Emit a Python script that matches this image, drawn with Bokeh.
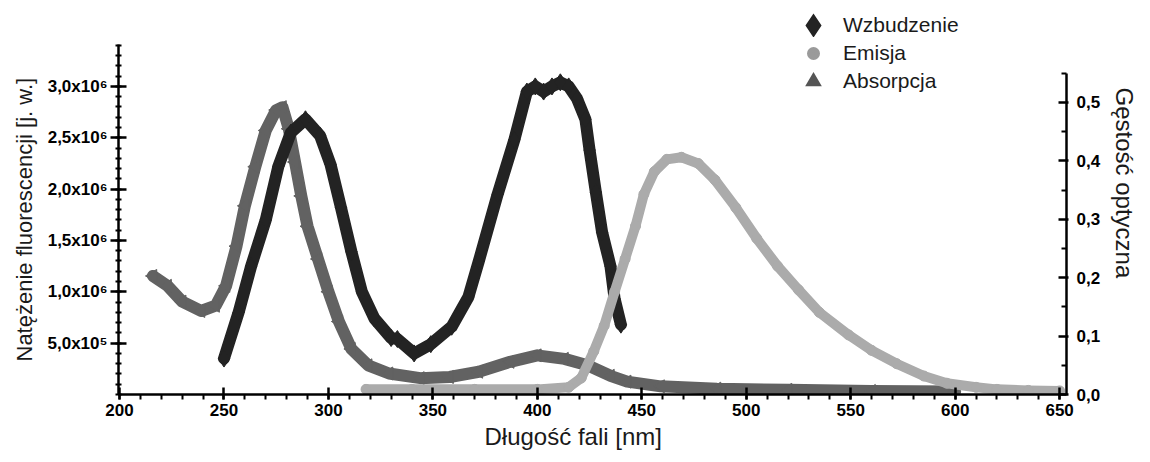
import math
from bokeh.plotting import figure
from bokeh.models import (Range1d, LinearAxis, FixedTicker, Legend, LegendItem, Title)
from bokeh.embed import file_html
from bokeh.resources import INLINE

# ---- data ----
exc_nm = [250, 257, 263, 270, 276, 282, 289, 296, 301, 306, 311, 316, 322, 330, 333,
          341, 349, 359, 367, 372, 381, 389, 395, 399, 403, 407, 411, 415, 419, 423,
          425, 428, 431, 435, 437, 440]
exc_val = [0.35e6, 0.80e6, 1.25e6, 1.70e6, 2.22e6, 2.55e6, 2.68e6, 2.52e6, 2.24e6, 1.82e6,
           1.39e6, 1.00e6, 0.74e6, 0.55e6, 0.54e6, 0.40e6, 0.49e6, 0.66e6, 0.95e6, 1.30e6,
           1.95e6, 2.48e6, 2.95e6, 3.00e6, 2.95e6, 3.00e6, 3.04e6, 3.00e6, 2.88e6, 2.68e6,
           2.38e6, 1.97e6, 1.58e6, 1.25e6, 0.93e6, 0.68e6]

em_nm = [318, 340, 370, 400, 415, 421, 427, 432, 437, 442, 447, 451, 456, 462, 469,
         477, 485, 495, 505, 515, 525, 535, 549, 560, 572, 585, 596, 610, 620, 635, 650]
em_val = [0.05e6, 0.05e6, 0.05e6, 0.05e6, 0.07e6, 0.16e6, 0.42e6, 0.67e6, 1.00e6, 1.32e6,
          1.64e6, 1.95e6, 2.17e6, 2.29e6, 2.31e6, 2.25e6, 2.09e6, 1.82e6, 1.52e6, 1.25e6,
          1.02e6, 0.80e6, 0.58e6, 0.43e6, 0.30e6, 0.18e6, 0.11e6, 0.07e6, 0.05e6, 0.04e6,
          0.035e6]

abs_nm = [216, 223, 230, 239, 246, 251, 256, 260, 265, 270, 275, 278, 281, 284, 287,
          290, 295, 300, 305, 311, 319, 329, 344, 358, 372, 387, 400, 413, 424, 435,
          443, 459, 486, 520, 560, 600]
abs_val = [0.203, 0.186, 0.159, 0.143, 0.152, 0.186, 0.254, 0.323, 0.390, 0.452, 0.487,
           0.492, 0.455, 0.398, 0.340, 0.288, 0.232, 0.176, 0.125, 0.078, 0.050, 0.036,
           0.028, 0.030, 0.039, 0.056, 0.067, 0.061, 0.050, 0.032, 0.022, 0.014, 0.010,
           0.008, 0.006, 0.005]

series_names = ["Wzbudzenie", "Emisja", "Absorpcja"]
x_ticks = [200, 250, 300, 350, 400, 450, 500, 550, 600, 650]
left_ticks = [5e5, 1e6, 1.5e6, 2e6, 2.5e6, 3e6]
left_labels = ["5,0x10\u2075", "1,0x10\u2076", "1,5x10\u2076", "2,0x10\u2076",
               "2,5x10\u2076", "3,0x10\u2076"]
right_ticks = [0.0, 0.1, 0.2, 0.3, 0.4, 0.5]
right_labels = ["0,0", "0,1", "0,2", "0,3", "0,4", "0,5"]
x_title = "D\u0142ugo\u015b\u0107 fali [nm]"
left_title = "Nat\u0119\u017cenie fluorescencji [j. w.]"
right_title = "G\u0119sto\u015b\u0107 optyczna"

FONT = "Liberation Sans"
C_EXC = "#232323"
C_EM = "#ababab"
C_ABS = "#626262"
NAN = [float("nan")]

p = figure(width=1146, height=460, output_backend="svg", toolbar_location=None,
           x_range=Range1d(199.5, 653.3), y_range=Range1d(0, 3.749e6),
           min_border_left=118, min_border_right=79, min_border_top=9,
           min_border_bottom=66, x_axis_location=None, y_axis_location=None)
p.extra_y_ranges = {"od": Range1d(0, 0.6592)}
p.grid.visible = False
p.outline_line_color = None
p.background_fill_color = "white"
p.border_fill_color = "white"

# curves
p.line(abs_nm, abs_val, y_range_name="od", line_width=12, line_color=C_ABS,
       line_join="round", line_cap="round")
p.scatter(abs_nm, abs_val, y_range_name="od", marker="triangle", size=13,
          angle=math.pi / 2, fill_color=C_ABS, line_color=C_ABS)
p.line(exc_nm, exc_val, line_width=12, line_color=C_EXC,
       line_join="round", line_cap="round")
p.scatter(exc_nm, exc_val, marker="diamond", size=17, fill_color=C_EXC, line_color=C_EXC)
p.line(em_nm, em_val, line_width=10, line_color=C_EM,
       line_join="round", line_cap="round")
p.scatter(em_nm, em_val, marker="circle", size=10, fill_color=C_EM, line_color=C_EM)

# legend key glyphs (not drawn in the plot area)
k_exc = p.scatter(NAN, NAN, marker="diamond", size=8, fill_color=C_EXC, line_color=C_EXC,
                  line_width=9, line_join="miter")
k_em = p.scatter(NAN, NAN, marker="circle", size=8, fill_color="#9a9a9a",
                 line_color="#9a9a9a", line_width=5)
k_abs = p.scatter(NAN, NAN, marker="triangle", size=8, fill_color="#555555",
                  line_color="#555555", line_width=5, line_join="miter")

legend = Legend(items=[LegendItem(label=series_names[0], renderers=[k_exc]),
                       LegendItem(label=series_names[1], renderers=[k_em]),
                       LegendItem(label=series_names[2], renderers=[k_abs])],
                location=(685, 301), border_line_color=None, background_fill_alpha=0,
                padding=2, spacing=4, glyph_width=20, glyph_height=24, label_height=24,
                label_standoff=20, label_text_font=FONT, label_text_font_size="21px",
                label_text_color="#1a1a1a", label_text_baseline="middle")
p.add_layout(legend, "center")


def style(ax):
    ax.axis_line_width = 2.5
    ax.axis_line_color = "black"
    ax.major_tick_line_width = 2.5
    ax.minor_tick_line_width = 2
    ax.major_tick_line_color = "black"
    ax.minor_tick_line_color = "black"
    ax.major_label_text_font = FONT
    ax.major_label_text_font_style = "bold"
    ax.major_label_text_font_size = "17px"
    ax.major_label_text_color = "black"


xa = LinearAxis(ticker=FixedTicker(ticks=x_ticks, minor_ticks=list(range(200, 651, 10))))
style(xa)
xa.major_tick_in = 7
xa.major_tick_out = 5
xa.minor_tick_in = 0
xa.minor_tick_out = 5
xa.major_label_standoff = 4
p.add_layout(xa, "below")

ya = LinearAxis(ticker=FixedTicker(ticks=left_ticks,
                                   minor_ticks=[i * 1e5 for i in range(0, 35)]),
                bounds=(0, 3.41e6))
style(ya)
ya.major_label_overrides = {t: s for t, s in zip(left_ticks, left_labels)}
ya.major_tick_in = 8
ya.major_tick_out = 8
ya.minor_tick_in = 3
ya.minor_tick_out = 3
ya.major_label_standoff = 3
p.add_layout(ya, "left")

ra = LinearAxis(y_range_name="od",
                ticker=FixedTicker(ticks=right_ticks,
                                   minor_ticks=[0.05, 0.15, 0.25, 0.35, 0.45, 0.55]),
                bounds=(0, 0.55))
style(ra)
ra.major_label_overrides = {t: s for t, s in zip(right_ticks, right_labels)}
ra.major_tick_in = 8
ra.major_tick_out = 2
ra.minor_tick_in = 5
ra.minor_tick_out = 0
ra.major_label_standoff = 8
p.add_layout(ra, "right")

# axis titles
tcommon = dict(text_font=FONT, text_font_style="normal", text_color="#1a1a1a")
p.add_layout(Title(text=x_title, align="left", offset=366, standoff=8,
                   vertical_align="top", text_font_size="24px", **tcommon), "below")
p.add_layout(Title(text=left_title, align="left", offset=33, standoff=16,
                   vertical_align="bottom", text_font_size="22px", **tcommon), "left")
p.add_layout(Title(text=right_title, align="left", offset=78, standoff=14,
                   vertical_align="bottom", text_font_size="24px", **tcommon), "right")

open("out.html", "w").write(file_html(p, INLINE))
